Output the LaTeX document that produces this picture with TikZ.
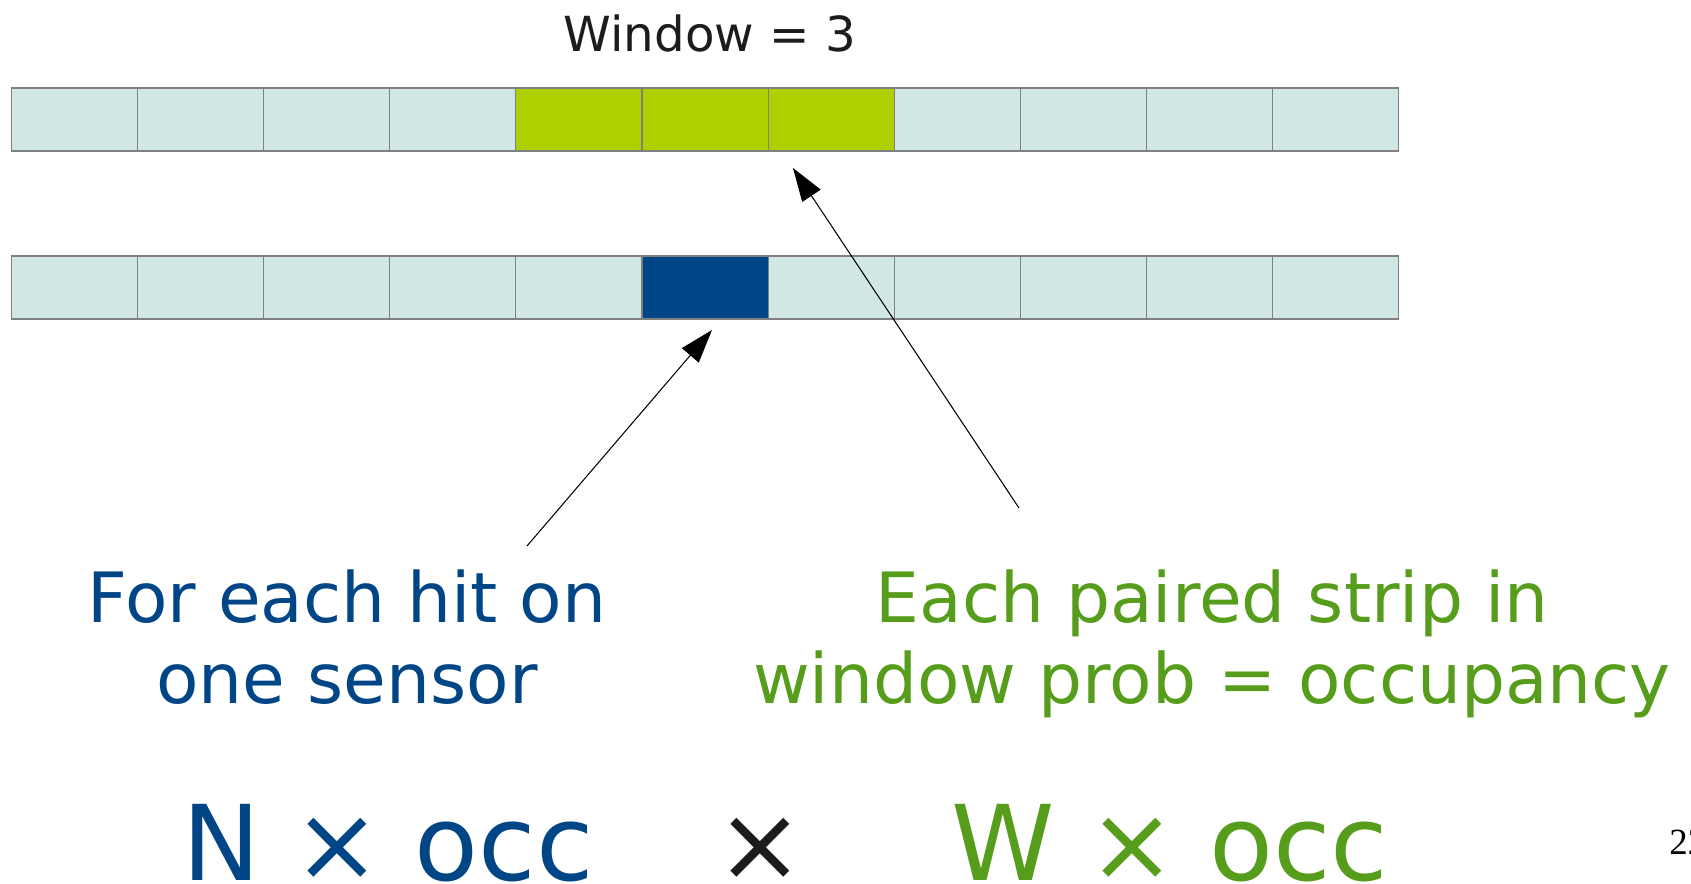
\documentclass[tikz,border=0pt]{standalone}
\usepackage{fontspec}
\setmainfont{DejaVu Sans}
\newfontfamily\pagefont{Liberation Serif}
\usetikzlibrary{arrows.meta}
\definecolor{cellbg}{HTML}{D0E7E5}
\definecolor{winbg}{HTML}{AFD000}
\definecolor{hitbg}{HTML}{004586}
\definecolor{winfg}{HTML}{579D1C}
\definecolor{txtfg}{HTML}{1C1C1C}
\tikzstyle{ndcell} = [draw=black!50, line width=0.6pt, fill=cellbg, shape=rectangle, minimum width=2.522cm, minimum height=1.26cm, inner sep=0pt, outer sep=0pt]
\tikzstyle{ndwin} = [ndcell, fill=winbg]
\tikzstyle{ndhit} = [ndcell, fill=hitbg]
\tikzstyle{txhit} = [text=hitbg, align=center, inner sep=0pt, font=\fontsize{39.5}{46}\selectfont]
\tikzstyle{txpair} = [text=winfg, align=center, inner sep=0pt, font=\fontsize{39.5}{46}\selectfont]
\tikzstyle{txbig} = [inner sep=0pt, font=\fontsize{59.5}{66}\selectfont]
\tikzstyle{arpt} = [style={-{Triangle[length=19pt,width=12.5pt]},line width=0.6pt,black}]

\begin{document}
\begin{tikzpicture}[x=0.02cm, y=-0.02cm]
	\useasboundingbox (0,0) rectangle (1691,883);
	\node[anchor=base, inner sep=0pt, text=txtfg, font=\fontsize{27.5}{33}\selectfont] (win) at (710,51) {Window = 3};
	% top sensor
	\node[ndcell] (t1) at (74.55,119.5) {};
	\node[ndcell] (t2) at (200.65,119.5) {};
	\node[ndcell] (t3) at (326.75,119.5) {};
	\node[ndcell] (t4) at (452.85,119.5) {};
	\node[ndwin] (t5) at (578.95,119.5) {};
	\node[ndwin] (t6) at (705.05,119.5) {};
	\node[ndwin] (t7) at (831.15,119.5) {};
	\node[ndcell] (t8) at (957.25,119.5) {};
	\node[ndcell] (t9) at (1083.35,119.5) {};
	\node[ndcell] (t10) at (1209.45,119.5) {};
	\node[ndcell] (t11) at (1335.55,119.5) {};
	% bottom sensor
	\node[ndcell] (b1) at (74.55,287.5) {};
	\node[ndcell] (b2) at (200.65,287.5) {};
	\node[ndcell] (b3) at (326.75,287.5) {};
	\node[ndcell] (b4) at (452.85,287.5) {};
	\node[ndcell] (b5) at (578.95,287.5) {};
	\node[ndhit] (b6) at (705.05,287.5) {};
	\node[ndcell] (b7) at (831.15,287.5) {};
	\node[ndcell] (b8) at (957.25,287.5) {};
	\node[ndcell] (b9) at (1083.35,287.5) {};
	\node[ndcell] (b10) at (1209.45,287.5) {};
	\node[ndcell] (b11) at (1335.55,287.5) {};
	% labels
	\node[txhit, anchor=base] (hit) at (347,703) {For each hit on\\one sensor};
	\node[txpair, anchor=base] (pair) at (1212,703) {Each paired strip in\\window prob = occupancy};
	\node[txbig, text=hitbg, anchor=base] (nocc) at (388,880) {N × occ};
	\node[txbig, text=txtfg, anchor=base] (times) at (760,880) {×};
	\node[txbig, text=winfg, anchor=base] (wocc) at (1170,880) {W × occ};
	\node[anchor=base west, inner sep=0pt, font=\pagefont\fontsize{21}{25}\selectfont] (pg) at (1669,854) {22};
	% arrows
	\coordinate (hittail) at (527,546);
	\coordinate (hittip) at (712,330);
	\coordinate (pairtail) at (1019,508);
	\coordinate (pairtip) at (793,168);
	\draw[arpt] (hittail) to (hittip);
	\draw[arpt] (pairtail) to (pairtip);
\end{tikzpicture}
\end{document}
